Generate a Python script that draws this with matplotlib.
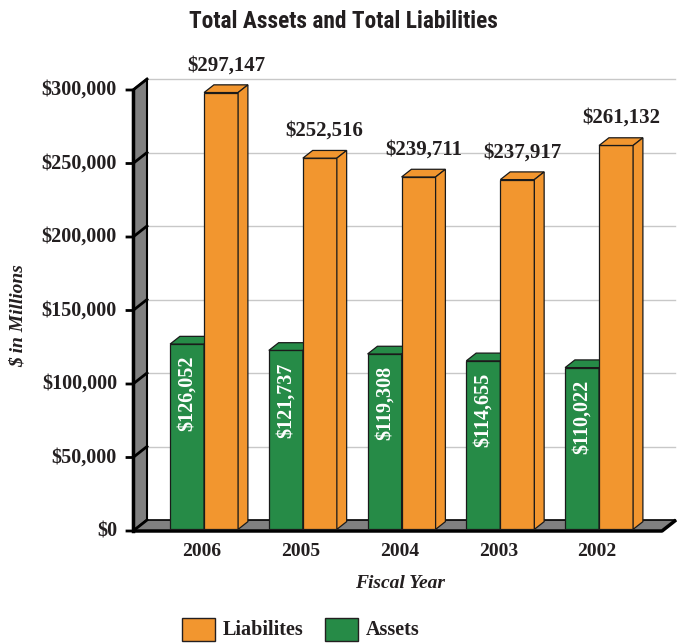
import matplotlib.pyplot as plt
from matplotlib import font_manager
from matplotlib.patches import Polygon, Rectangle

years = ['2006', '2005', '2004', '2003', '2002']
liabilities = [297147, 252516, 239711, 237917, 261132]
assets = [126052, 121737, 119308, 114655, 110022]
yticks = [0, 50000, 100000, 150000, 200000, 250000, 300000]

ORANGE = '#F2962F'
GREEN = '#268B47'
GRAY = '#808080'
SERIF = 'Liberation Serif'


def first_font(names):
    for name in names:
        try:
            font_manager.findfont(font_manager.FontProperties(family=name, weight='bold'),
                                  fallback_to_default=False)
            return name
        except ValueError:
            pass
    return 'Liberation Sans'


TITLE_FONT = first_font(['Roboto Condensed', 'Liberation Sans Narrow',
                         'DejaVu Sans Condensed', 'Liberation Sans'])

W, H = 677, 644
fig = plt.figure(figsize=(W / 100, H / 100), dpi=100)

# pixel geometry of the plot box
px_x = 98.75            # pixels per category step
x0_px = 202             # pixel of first category centre
left_px, right_px = 133, 677
y0_px, ytop_px = 531, 90
px_y = (y0_px - ytop_px) / 300000

xl = (left_px - x0_px) / px_x
xr = (right_px - x0_px) / px_x
ax = fig.add_axes([left_px / W, (H - y0_px) / H,
                   (right_px - left_px) / W, (y0_px - ytop_px) / H])
ax.set_xlim(xl, xr)
ax.set_ylim(0, 300000)
ax.axis('off')

# depth of the wall/floor in data units
DX = 14 / px_x
DY = 11 / px_y
f0, f1 = 0.15, 0.85
BW = 34 / px_x


def px2x(p):
    return p / px_x


def px2y(p):
    return p / px_y


# back-wall gridlines
for v in yticks[1:]:
    ax.plot([xl + DX, xr - px2x(2)], [v + DY, v + DY], color='#c8c8c8',
            lw=1, zorder=1, clip_on=False)

# left wall
wall = Polygon([(xl, 0), (xl, 300000), (xl + DX, 300000 + DY), (xl + DX, DY)],
               closed=True, facecolor=GRAY, edgecolor='black', lw=1.5,
               zorder=2, clip_on=False)
ax.add_patch(wall)
ax.plot([xl, xl], [0, 300000], color='black', lw=2.5, zorder=3, clip_on=False)

# floor
xf = (662 - x0_px) / px_x
floor = Polygon([(xl, 0), (xf, 0), (xf + DX, DY), (xl + DX, DY)], closed=True,
                facecolor=GRAY, edgecolor='black', lw=1.2, zorder=2, clip_on=False)
ax.add_patch(floor)
ax.plot([xl, xf, xf + DX], [0, 0, DY], color='black', lw=2.5, zorder=3,
        clip_on=False, solid_capstyle='butt')

# ticks and tick labels
for v in yticks:
    ax.plot([xl - px2x(6), xl, xl + DX], [v, v, v + DY], color='black', lw=2,
            zorder=3, clip_on=False)
    ax.text(xl - px2x(16), v, '${:,}'.format(v), ha='right', va='center',
            family=SERIF, weight='bold', fontsize=14.5, color='#231f20')


def draw_bar(x, v, color):
    xb = x + f0 * DX
    yb = f0 * DY
    d = f1 - f0
    ax.bar(xb, v, bottom=yb, width=BW, align='edge', color=color,
           edgecolor='#1a1a1a', lw=0.9, zorder=4)
    top = v + yb
    ax.add_patch(Polygon([(xb, top), (xb + BW, top), (xb + BW + d * DX, top + d * DY),
                          (xb + d * DX, top + d * DY)], closed=True, facecolor=color,
                         edgecolor='#1a1a1a', lw=0.9, zorder=4, clip_on=False))
    ax.add_patch(Polygon([(xb + BW, yb), (xb + BW + d * DX, yb + d * DY),
                          (xb + BW + d * DX, top + d * DY), (xb + BW, top)],
                         closed=True, facecolor=color, edgecolor='#1a1a1a',
                         lw=0.9, zorder=4, clip_on=False))


for i, (yr, a, l) in enumerate(zip(years, assets, liabilities)):
    draw_bar(i - BW, a, GREEN)
    draw_bar(i, l, ORANGE)
    # liabilities value above bar
    ax.annotate('${:,}'.format(l), xy=(i + BW / 2 + f0 * DX + (f1 - f0) * DX / 2, l + f1 * DY),
                xytext=(0, 7), textcoords='offset points', ha='center', va='bottom',
                family=SERIF, weight='bold', fontsize=15, color='#231f20',
                annotation_clip=False)
    # assets value inside bar
    ax.annotate('${:,}'.format(a), xy=(i - BW / 2 + f0 * DX, a + f0 * DY),
                xytext=(0, -8.5), textcoords='offset points', ha='center', va='top',
                rotation=90, family=SERIF, weight='bold', fontsize=14.5,
                color='white', annotation_clip=False, zorder=6)
    ax.text(i, -px2y(20), yr, ha='center', va='center', family=SERIF,
            weight='bold', fontsize=14, color='#231f20')

ax.text((400 - x0_px) / px_x, -px2y(52), 'Fiscal Year', ha='center', va='center',
        family=SERIF, weight='bold', style='italic', fontsize=14, color='#231f20')
fig.text(18 / W, 1 - 316 / H, '$ in Millions', rotation=90, ha='center', va='center',
         family=SERIF, weight='bold', style='italic', fontsize=14, color='#231f20')

title_size = 16.8 if TITLE_FONT != 'Liberation Sans' else 15
fig.text(343 / W, 1 - 21 / H, 'Total Assets and Total Liabilities', ha='center',
         va='center', family=TITLE_FONT, stretch='condensed',
         weight='bold', fontsize=title_size, color='#231f20')

# legend
for x_px, color, label in [(182, ORANGE, 'Liabilites'), (325, GREEN, 'Assets')]:
    fig.patches.append(Rectangle((x_px / W, 1 - 641 / H), 33 / W, 23 / H,
                                 facecolor=color, edgecolor='#231f20', lw=1,
                                 transform=fig.transFigure, figure=fig))
    fig.text((x_px + 41) / W, 1 - 630 / H, label, ha='left', va='center',
             family=SERIF, weight='bold', fontsize=14.5, color='#231f20')

fig.savefig('out.png', dpi=100)
